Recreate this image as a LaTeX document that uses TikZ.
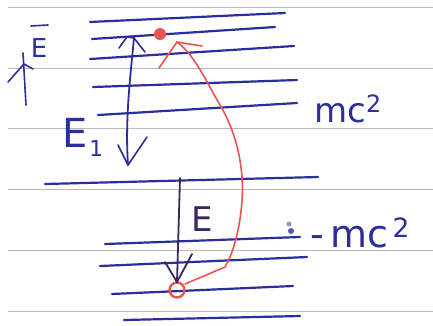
\documentclass[tikz,border=0pt]{standalone}
\usepackage{fontspec}
\setmainfont{DejaVu Sans}
\begin{document}
\begin{tikzpicture}[x=1pt,y=-1pt,
  rule/.style={draw=gray!55,line width=0.9pt},
  pen/.style={draw=penblue,line width=2.2pt,line cap=round,line join=round},
  redpen/.style={draw=penred,line width=1.6pt,line cap=round,line join=round},
  darkpen/.style={draw=darkink,line width=1.8pt,line cap=round,line join=round},
  lbl/.style={text=penblue,inner sep=0pt,font=\fontsize{34}{34}\selectfont}]
\definecolor{penblue}{HTML}{2C2E9C}
\definecolor{penred}{HTML}{E9554F}
\definecolor{darkink}{HTML}{3B2660}
\fill[white] (0,0) rectangle (433,325);
\useasboundingbox (0,0) rectangle (433,325);
% paper rules
\foreach \yy in {7,68,128,189,250,311} \draw[rule] (8,\yy) -- (433,\yy);
% upper levels
\draw[pen] (90,22) -- (285,13);
\draw[pen] (92,39) -- (275,27);
\draw[pen] (90,59) -- (294,46);
\draw[pen] (93,87) -- (297,80);
\draw[pen] (98,115) -- (297,103);
% middle line
\draw[pen] (45,184) -- (318,177);
% lower levels
\draw[pen] (105,244) -- (300,237);
\draw[pen] (100,266) -- (307,257);
\draw[pen] (112,294) -- (293,286);
\draw[pen] (124,320) -- (300,316);
% smudge
\fill[penblue!50] (289,224) circle (2.5);
\fill[penblue!80] (291,231) circle (3);
% electron (red dot) and hole (red circle)
\fill[penred] (160,34) circle (6);
\draw[redpen,line width=2.4pt] (177,290) circle (7.5);
% red path from hole up to electron
\coordinate (rs) at (185,284);
\coordinate (rt) at (177,42);
\draw[redpen] (rs) -- (225,267) .. controls (238,245) and (244,205) .. (242,177)
  .. controls (240,150) and (232,125) .. (220,105)
  .. controls (208,85) and (195,55) .. (rt);
\draw[redpen] (159,68) -- (rt) -- (202,46);
% blue double arrow E1
\coordinate (dt) at (134,38);
\coordinate (db) at (128,165);
\draw[pen,line width=1.8pt] (dt) .. controls (130,80) and (125,120) .. (db);
\draw[pen,line width=1.6pt] (119,48) -- (127,37) -- (dt) -- (145,52);
\draw[pen,line width=1.6pt] (118,145) -- (db) -- (147,137);
% dark arrow E
\coordinate (et) at (180,178);
\coordinate (eb) at (177,282);
\draw[darkpen] (et) -- (eb);
\draw[darkpen] (165,262) -- (eb) -- (192,254);
% left E-bar with up arrow
\coordinate (lb) at (26,105);
\coordinate (lt) at (23,53);
\coordinate (lh) at (24,64);
\draw[pen,line width=1.6pt] (lb) -- (lt);
\draw[pen,line width=1.6pt] (8,82) -- (lh) -- (33,69);
\node[lbl,font=\fontsize{26}{26}\selectfont] (ebar) at (39,48) {E};
\draw[pen,line width=1.6pt] (31,26) -- (48,25);
% labels
\node[lbl,font=\fontsize{40}{40}\selectfont] (e1) at (75,133) {E};
\node[lbl,font=\fontsize{22}{22}\selectfont] (e1s) at (96,148) {1};
\node[lbl,text=darkink,font=\fontsize{34}{34}\selectfont] (elab) at (202,219) {E};
\node[lbl,anchor=base west] (mc) at (314,122) {mc\textsuperscript{2}};
\node[lbl,anchor=base west,font=\fontsize{38}{38}\selectfont] (mmc) at (310,247) {-\,mc\textsuperscript{\,2}};
\end{tikzpicture}
\end{document}
